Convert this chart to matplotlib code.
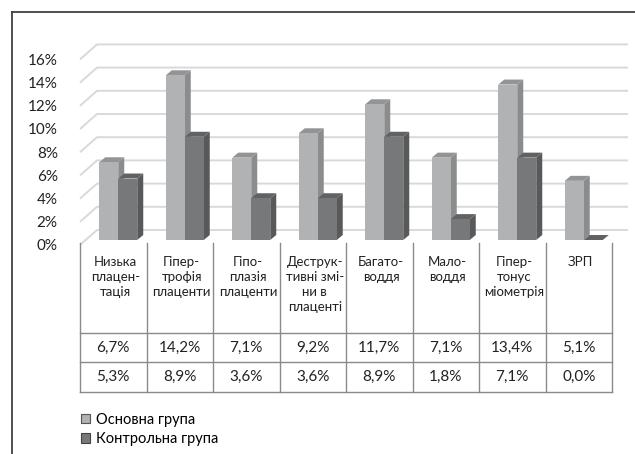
"""
3D-style grouped bar chart with a data table underneath (Excel look)
"""

import matplotlib
matplotlib.use('Agg')
import matplotlib.pyplot as plt
from matplotlib.patches import Patch
from matplotlib.transforms import blended_transform_factory

plt.rcParams['font.family'] = ['Lato', 'Open Sans', 'DejaVu Sans']

categories = ['Низька\nплацен-\nтація', 'Гіпер-\nтрофія\nплаценти',
              'Гіпо-\nплазія\nплаценти', 'Деструк-\nтивні змі-\nни в\nплаценті',
              'Багато-\nводдя', 'Мало-\nводдя', 'Гіпер-\nтонус\nміометрія', 'ЗРП']
main_group = [6.7, 14.2, 7.1, 9.2, 11.7, 7.1, 13.4, 5.1]
control_group = [5.3, 8.9, 3.6, 3.6, 8.9, 1.8, 7.1, 0.0]
series_names = ['Основна група', 'Контрольна група']
yticks = [0, 2, 4, 6, 8, 10, 12, 14, 16]

W, H = 635, 454
fig = plt.figure(figsize=(W / 100, H / 100), dpi=100)

# plot area in pixels: front floor at y=245, 11.6 px per percent
left, right, floor = 80, 612, 245
ppy = 11.6
ax = fig.add_axes([left / W, 1 - floor / H, (right - left) / W, 16 * ppy / H])
n = len(categories)
ax.set_xlim(-0.5, n - 0.5)
ax.set_ylim(0, 16)
ppx = (right - left) / n

for s in ax.spines.values():
    s.set_visible(False)
ax.set_xticks([])
ax.set_yticks(yticks, [f'{v}%' for v in yticks])
ax.tick_params(axis='y', length=0, pad=16, labelsize=11, labelcolor='#222222')

# back wall gridlines with a perspective stub on the left
gx, gy = 17 / ppx, 15 / ppy
x_end = (628 - left) / ppx - 0.5
for v in yticks:
    ax.plot([-0.5, -0.5 + gx, x_end], [v, v + gy, v + gy], color='#d9d9d9',
            lw=1.4, clip_on=False, zorder=1, solid_capstyle='butt')

# bars: front via ax.bar, side and top faces as polygons
base = 5 / ppy
bw = 19 / ppx
dx, dy = 6 / ppx, 5 / ppy
styles = [('#b1b2b4', '#8b8c8e', '#939496'), ('#77787a', '#58595b', '#616264')]
offsets = [-14 / ppx, -14 / ppx + bw]
for vals, off, (cf, cs, ct) in zip([main_group, control_group], offsets, styles):
    for i, v in enumerate(vals):
        x0 = i + off
        x1 = x0 + bw
        top = base + v
        ax.fill([x1, x1 + dx, x1 + dx, x1], [base, base + dy, top + dy, top],
                color=cs, lw=0, clip_on=False, zorder=3)
        ax.fill([x0, x1, x1 + dx, x0 + dx], [top, top, top + dy, top + dy],
                color=ct, lw=0, clip_on=False, zorder=3)
        ax.bar(x0, v, width=bw, bottom=base, align='edge', color=cf, lw=0,
               zorder=3, clip_on=False)

# data table under the plot
tr = blended_transform_factory(ax.transData, fig.transFigure)
def fy(py):
    return 1 - py / H

t_top, t_head, t_mid, t_bot = 243, 333, 362, 392
line_kw = dict(transform=tr, clip_on=False, color='#8a8a8a', lw=1.0)
for i in range(n + 1):
    ax.plot([i - 0.5, i - 0.5], [fy(t_top), fy(t_bot)], **line_kw)
for py in (t_head, t_mid, t_bot):
    ax.plot([-0.5, n - 0.5], [fy(py), fy(py)], **line_kw)

for i, name in enumerate(categories):
    ax.text(i + 0.03, fy(256), name, transform=tr, ha='center', va='top',
            fontsize=9.5, linespacing=1.3, color='#222222')
    for vals, py in ((main_group, 348), (control_group, 377)):
        ax.text(i, fy(py), f'{vals[i]:.1f}%'.replace('.', ','), transform=tr,
                ha='center', va='center', fontsize=11, color='#222222')

handles = [Patch(facecolor=styles[0][0], edgecolor='#555555', lw=0.8),
           Patch(facecolor=styles[1][0], edgecolor='#444444', lw=0.8)]
fig.legend(handles, series_names, loc='upper left',
           bbox_to_anchor=(81 / W, fy(413)), frameon=False, fontsize=10.5,
           handlelength=0.6, handleheight=0.6, handletextpad=0.45,
           labelspacing=0.35, borderaxespad=0, borderpad=0)

# outer frame (only top and left edges visible)
fig.add_artist(plt.Line2D([12 / W, 12 / W], [0, fy(12)], color='#404040', lw=1.3))
fig.add_artist(plt.Line2D([12 / W, 1], [fy(12), fy(12)], color='#404040', lw=1.3))

fig.savefig('out.png', dpi=100)
